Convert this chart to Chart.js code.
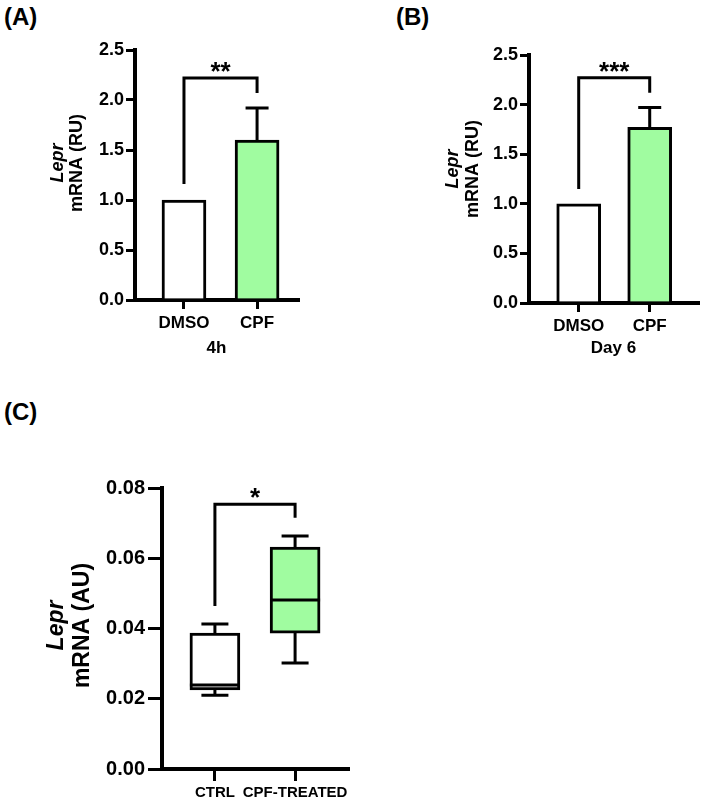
<!DOCTYPE html>
<html>
<head>
<meta charset="utf-8">
<script src="https://cdn.jsdelivr.net/npm/chart.js@4"></script>
<style>
  body { margin: 0; background: #fff; }
  #fig { position: relative; width: 708px; height: 807px; overflow: hidden; font-family: "Liberation Sans", Arial, sans-serif; }
  .panel-tag { position: absolute; font-weight: bold; font-size: 24px; line-height: 24px; color: #000; }
  canvas { position: absolute; }
</style>
</head>
<body>
<div id="fig">
  <div class="panel-tag" style="left:4px; top:5px;">(A)</div>
  <div class="panel-tag" style="left:396px; top:5px;">(B)</div>
  <div class="panel-tag" style="left:4px; top:400px;">(C)</div>
  <canvas id="chartA" width="350" height="370" style="left:0; top:0;"></canvas>
  <canvas id="chartB" width="348" height="370" style="left:360px; top:0;"></canvas>
  <canvas id="chartC" width="360" height="407" style="left:0; top:400px;"></canvas>
</div>
<script>
// ---- data: panel A (4h) ----
const groupsA = ['DMSO', 'CPF'];
const meanA = [1.0, 1.6];
const sdA = [0, 0.32];
const bracketA = [1.16, 2.22, 2.07];   // left end, top, right end (RU)
const starsA = '**';

// ---- data: panel B (Day 6) ----
const groupsB = ['DMSO', 'CPF'];
const meanB = [1.0, 1.77];
const sdB = [0, 0.20];
const bracketB = [1.15, 2.27, 2.12];
const starsB = '***';

// ---- data: panel C (box plot) ----
const groupsC = ['CTRL', 'CPF-TREATED'];
const minC = [0.0210, 0.0302];
const q1C = [0.0225, 0.0387];
const medianC = [0.0239, 0.0481];
const q3C = [0.0387, 0.0632];
const maxC = [0.0413, 0.0663];
const bracketC = [0.0464, 0.0754, 0.0715];
const starsC = '*';

const FONT = '"Liberation Sans", Arial, sans-serif';
const GREEN = '#a0fca0';
const fills = ['#ffffff', GREEN];

// --- plugins ---
function yTitle(lines, offsets, size, shift) {
    return {
        id: 'yTitle',
        afterDraw(chart) {
            const { ctx, chartArea } = chart;
            const cy = (chartArea.top + chartArea.bottom) / 2 + shift;
            ctx.save();
            ctx.fillStyle = '#000';
            ctx.textAlign = 'center';
            ctx.textBaseline = 'middle';
            lines.forEach((t, i) => {
                ctx.save();
                ctx.translate(chartArea.left + offsets[i], cy);
                ctx.rotate(-Math.PI / 2);
                ctx.font = (i === 0 ? 'italic bold ' : 'bold ') + size + 'px ' + FONT;
                ctx.fillText(t, 0, 0);
                ctx.restore();
            });
            ctx.restore();
        }
    };
}

function sigBracket(bracket, stars, size) {
    return {
        id: 'sigBracket',
        afterDraw(chart) {
            const { ctx, scales: { x, y } } = chart;
            const x1 = x.getPixelForValue(1), x2 = x.getPixelForValue(2);
            const yl = y.getPixelForValue(bracket[0]);
            const yt = y.getPixelForValue(bracket[1]);
            const yr = y.getPixelForValue(bracket[2]);
            ctx.save();
            ctx.strokeStyle = '#000';
            ctx.lineWidth = 3;
            ctx.lineJoin = 'miter';
            ctx.beginPath();
            ctx.moveTo(x1, yl);
            ctx.lineTo(x1, yt);
            ctx.lineTo(x2, yt);
            ctx.lineTo(x2, yr);
            ctx.stroke();
            ctx.fillStyle = '#000';
            ctx.font = 'bold ' + size + 'px ' + FONT;
            ctx.textAlign = 'center';
            ctx.textBaseline = 'alphabetic';
            ctx.fillText(stars, (x1 + x2) / 2, yt + 2);
            ctx.restore();
        }
    };
}

function errorBars(means, sds, cap) {
    return {
        id: 'errorBars',
        afterDatasetsDraw(chart) {
            const { ctx, scales: { x, y } } = chart;
            ctx.save();
            ctx.strokeStyle = '#000';
            ctx.lineWidth = 3;
            means.forEach((m, i) => {
                if (!sds[i]) return;
                const px = x.getPixelForValue(i + 1);
                const y0 = y.getPixelForValue(m);
                const y1 = y.getPixelForValue(m + sds[i]);
                ctx.beginPath();
                ctx.moveTo(px, y0);
                ctx.lineTo(px, y1);
                ctx.moveTo(px - cap / 2, y1);
                ctx.lineTo(px + cap / 2, y1);
                ctx.stroke();
            });
            ctx.restore();
        }
    };
}

function whiskers(cap, boxW) {
    return {
        id: 'whiskers',
        afterDatasetsDraw(chart) {
            const { ctx, scales: { x, y } } = chart;
            ctx.save();
            ctx.strokeStyle = '#000';
            ctx.lineWidth = 3;
            groupsC.forEach((g, i) => {
                const px = x.getPixelForValue(i + 1);
                const yMin = y.getPixelForValue(minC[i]);
                const yQ1 = y.getPixelForValue(q1C[i]);
                const yMed = y.getPixelForValue(medianC[i]);
                const yQ3 = y.getPixelForValue(q3C[i]);
                const yMax = y.getPixelForValue(maxC[i]);
                ctx.beginPath();
                ctx.moveTo(px, yQ3); ctx.lineTo(px, yMax);
                ctx.moveTo(px - cap / 2, yMax); ctx.lineTo(px + cap / 2, yMax);
                ctx.moveTo(px, yQ1); ctx.lineTo(px, yMin);
                ctx.moveTo(px - cap / 2, yMin); ctx.lineTo(px + cap / 2, yMin);
                ctx.moveTo(px - boxW / 2, yMed); ctx.lineTo(px + boxW / 2, yMed);
                ctx.stroke();
            });
            ctx.restore();
        }
    };
}

// --- shared axis builders ---
function xAxis(labels, min, max, o) {
    return {
        type: 'linear',
        min: min, max: max,
        bounds: 'data',
        offset: false,
        afterBuildTicks: (s) => { s.ticks = labels.map((l, i) => ({ value: i + 1 })); },
        afterFit: (s) => { s.height = o.height; },
        ticks: {
            autoSkip: false, maxRotation: 0, padding: o.pad,
            color: '#000', font: { family: FONT, weight: 'bold', size: o.size },
            callback: (v, i) => labels[i]
        },
        grid: { offset: false, drawOnChartArea: false, color: '#000', lineWidth: 3, tickLength: o.tick },
        border: { color: '#000', width: 4 },
        title: o.title ? {
            display: true, text: o.title, color: '#000', padding: 0,
            font: { family: FONT, weight: 'bold', size: o.size }
        } : { display: false }
    };
}

function yAxis(max, step, digits, o) {
    return {
        min: 0, max: max,
        afterFit: (s) => { s.width = o.width; },
        ticks: {
            stepSize: step, padding: o.pad, color: '#000',
            font: { family: FONT, weight: 'bold', size: o.size },
            callback: (v) => Number(v).toFixed(digits)
        },
        grid: { drawOnChartArea: false, color: '#000', lineWidth: 3, tickLength: o.tick },
        border: { color: '#000', width: 4 }
    };
}

const common = {
    responsive: false,
    animation: false,
    events: [],
    plugins: { legend: { display: false }, tooltip: { enabled: false } }
};

// --- Panel A ---
new Chart(document.getElementById('chartA'), {
    type: 'bar',
    data: {
        datasets: [{
            data: meanA.map((v, i) => ({ x: i + 1, y: v })),
            backgroundColor: fills,
            borderColor: '#000',
            borderWidth: 3,
            borderSkipped: 'bottom',
            barThickness: 44
        }]
    },
    options: {
        ...common,
        layout: { padding: { left: 0, right: 52, top: 50, bottom: 11 } },
        scales: {
            x: xAxis(groupsA, 0.33, 2.56, { height: 59, pad: 4, size: 17, tick: 9, title: '4h' }),
            y: yAxis(2.5, 0.5, 1, { width: 135, pad: 2, size: 18, tick: 9 })
        }
    },
    plugins: [errorBars(meanA, sdA, 23), sigBracket(bracketA, starsA, 26),
              yTitle(['Lepr', 'mRNA (RU)'], [-77, -58], 18, -12)]
});

// --- Panel B ---
new Chart(document.getElementById('chartB'), {
    type: 'bar',
    data: {
        datasets: [{
            data: meanB.map((v, i) => ({ x: i + 1, y: v })),
            backgroundColor: fills,
            borderColor: '#000',
            borderWidth: 3,
            borderSkipped: 'bottom',
            barThickness: 44
        }]
    },
    options: {
        ...common,
        layout: { padding: { left: 0, right: 10, top: 55, bottom: 11 } },
        scales: {
            x: xAxis(groupsB, 0.3, 2.68, { height: 56, pad: 4, size: 17, tick: 9, title: 'Day 6' }),
            y: yAxis(2.5, 0.5, 1, { width: 169, pad: 2, size: 18, tick: 9 })
        }
    },
    plugins: [errorBars(meanB, sdB, 23), sigBracket(bracketB, starsB, 26),
              yTitle(['Lepr', 'mRNA (RU)'], [-76, -56], 18, -10)]
});

// --- Panel C (box plot: floating bars for Q1..Q3, whiskers/median drawn on scales) ---
new Chart(document.getElementById('chartC'), {
    type: 'bar',
    data: {
        datasets: [{
            data: q1C.map((v, i) => ({ x: i + 1, y: [v, q3C[i]] })),
            backgroundColor: fills,
            borderColor: '#000',
            borderWidth: 3,
            borderSkipped: false,
            barThickness: 50
        }]
    },
    options: {
        ...common,
        layout: { padding: { left: 0, right: 12, top: 88, bottom: 4 } },
        scales: {
            x: xAxis(groupsC, 0.34, 2.66, { height: 34, pad: 3, size: 15, tick: 12 }),
            y: yAxis(0.08, 0.02, 2, { width: 162, pad: 3, size: 20, tick: 14 })
        }
    },
    plugins: [whiskers(27, 50), sigBracket(bracketC, starsC, 26),
              yTitle(['Lepr', 'mRNA (AU)'], [-105, -79], 23, -3)]
});
</script>
</body>
</html>
